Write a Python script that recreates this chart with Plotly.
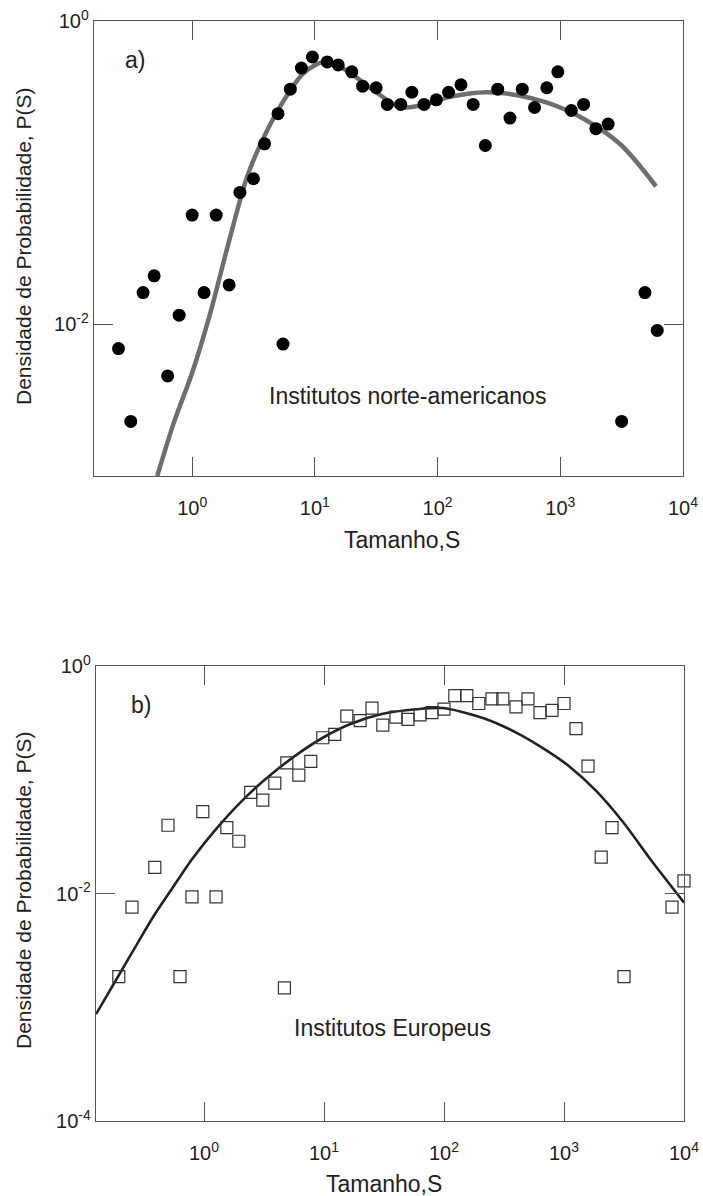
import plotly.graph_objects as go

# ---------------- Panel a) : Institutos norte-americanos ----------------
s_na = [0.158, 0.251, 0.316, 0.398, 0.49, 0.631, 0.783, 1.0, 1.25, 1.57, 2.0, 2.45,
        3.16, 3.89, 5.01, 5.5, 6.31, 7.76, 9.55, 12.6, 15.5, 20.0, 24.5, 31.6, 38.9,
        50.1, 61.7, 77.6, 97.7, 123, 155, 195, 245, 309, 389, 490, 617, 776, 955,
        1230, 1549, 1950, 2455, 3162, 4898, 6166]
p_na = [0.00229, 0.00692, 0.00229, 0.0162, 0.0209, 0.00457, 0.0115, 0.0525, 0.0162,
        0.0525, 0.0182, 0.0741, 0.0912, 0.155, 0.245, 0.00741, 0.355, 0.49, 0.579,
        0.537, 0.513, 0.462, 0.372, 0.363, 0.282, 0.282, 0.339, 0.282, 0.302, 0.339,
        0.380, 0.282, 0.151, 0.355, 0.229, 0.355, 0.269, 0.363, 0.462, 0.257, 0.282,
        0.195, 0.209, 0.00229, 0.0162, 0.00912]

# fitted curve
fit_na_s = [0.519, 0.708, 1.0, 1.41, 2.0, 2.82, 3.98, 5.62, 7.94, 11.2, 14.1, 20.0,
            31.6, 50.1, 79.4, 126, 251, 447, 794, 1585, 3162, 6026]
fit_na_p = [0.001, 0.00224, 0.00479, 0.0120, 0.0355, 0.0955, 0.182, 0.302, 0.447,
            0.531, 0.525, 0.447, 0.339, 0.269, 0.282, 0.316, 0.339, 0.324, 0.288,
            0.224, 0.151, 0.0813]

# ---------------- Panel b) : Institutos Europeus ----------------
s_eu = [0.195, 0.251, 0.389, 0.501, 0.631, 0.794, 0.977, 1.26, 1.55, 1.95, 2.45, 3.09,
        3.89, 4.68, 4.9, 6.17, 7.76, 9.77, 12.3, 15.5, 20.0, 25.1, 30.9, 39.8, 50.1,
        63.1, 79.4, 100, 123, 155, 195, 251, 309, 398, 501, 631, 794, 1000, 1259,
        1585, 2042, 2512, 3162, 7943, 10000]
p_eu = [0.00186, 0.00759, 0.0170, 0.0398, 0.00186, 0.00933, 0.0525, 0.00933, 0.0380,
        0.0288, 0.0776, 0.0661, 0.0933, 0.00148, 0.141, 0.110, 0.145, 0.234, 0.251,
        0.363, 0.331, 0.427, 0.302, 0.355, 0.339, 0.372, 0.389, 0.417, 0.550, 0.550,
        0.468, 0.513, 0.513, 0.437, 0.513, 0.389, 0.407, 0.468, 0.282, 0.132, 0.0209,
        0.0380, 0.00186, 0.00759, 0.0129]

fit_eu_s = [0.126, 0.195, 0.282, 0.380, 0.525, 0.794, 1.29, 2.40, 4.07, 6.31, 9.77,
            16.6, 30.9, 58.9, 97.7, 214, 407, 708, 1096, 1862, 3090, 5248, 10000]
fit_eu_p = [0.00087, 0.00191, 0.00372, 0.00631, 0.0105, 0.0200, 0.0380, 0.0759,
            0.123, 0.174, 0.234, 0.309, 0.380, 0.417, 0.427, 0.347, 0.257, 0.182,
            0.132, 0.0794, 0.0427, 0.0200, 0.00832]

x_tickvals = [1, 10, 100, 1000, 10000]
x_ticktext = ["10<sup>0</sup>", "10<sup>1</sup>", "10<sup>2</sup>", "10<sup>3</sup>", "10<sup>4</sup>"]
ya_tickvals = [1, 0.01]
ya_ticktext = ["10<sup>0</sup>", "10<sup>-2</sup>"]
yb_tickvals = [1, 0.01, 0.0001]
yb_ticktext = ["10<sup>0</sup>", "10<sup>-2</sup>", "10<sup>-4</sup>"]

FONT = "Liberation Sans, Arial, sans-serif"
AX = "#555555"
TXT = "#222222"
W, H = 703, 1196

fig = go.Figure()

fig.add_trace(go.Scatter(x=fit_na_s, y=fit_na_p, mode="lines",
                         line=dict(color="#6e6e6e", width=4.5, shape="spline", smoothing=0.8),
                         xaxis="x", yaxis="y", cliponaxis=True, showlegend=False))
fig.add_trace(go.Scatter(x=s_na, y=p_na, mode="markers",
                         marker=dict(symbol="circle", size=13, color="black"),
                         xaxis="x", yaxis="y", cliponaxis=False, showlegend=False))

fig.add_trace(go.Scatter(x=fit_eu_s, y=fit_eu_p, mode="lines",
                         line=dict(color="#222222", width=2.6, shape="spline", smoothing=0.8),
                         xaxis="x2", yaxis="y2", cliponaxis=True, showlegend=False))
fig.add_trace(go.Scatter(x=s_eu, y=p_eu, mode="markers",
                         marker=dict(symbol="square-open", size=12, color="#333333",
                                     line=dict(width=1.2, color="#333333")),
                         xaxis="x2", yaxis="y2", cliponaxis=False, showlegend=False))


def px_x(p):
    return p / W


def px_y(p):
    return 1 - p / H


def xaxis(domain, rng, anchor):
    return dict(domain=domain, type="log", range=rng, anchor=anchor,
                tickmode="array", tickvals=x_tickvals, ticktext=x_ticktext,
                ticks="inside", ticklen=19, tickwidth=1.2, tickcolor=AX,
                showline=True, linecolor=AX, linewidth=1.4, mirror="ticks",
                showgrid=False, zeroline=False, automargin=False,
                ticklabelstandoff=14,
                tickfont=dict(family=FONT, size=20, color=TXT))


def yaxis(domain, rng, anchor, tv, tt):
    return dict(domain=domain, type="log", range=rng, anchor=anchor,
                tickmode="array", tickvals=tv, ticktext=tt,
                ticks="inside", ticklen=19, tickwidth=1.2, tickcolor=AX,
                showline=True, linecolor=AX, linewidth=1.4, mirror="ticks",
                showgrid=False, zeroline=False, automargin=False,
                tickfont=dict(family=FONT, size=20, color=TXT))


def label(text, x, y, size, anchor="left", angle=0):
    return dict(text=text, x=px_x(x), y=px_y(y), xref="paper", yref="paper",
                xanchor=anchor, yanchor="middle", showarrow=False, textangle=angle,
                font=dict(family=FONT, size=size, color=TXT))


YTITLE = "Densidade de Probabilidade, P(S)"
XTITLE = "Tamanho,S"

fig.update_layout(
    width=W, height=H,
    margin=dict(l=0, r=0, t=0, b=0, autoexpand=False),
    paper_bgcolor="white", plot_bgcolor="white",
    xaxis=xaxis([px_x(94), px_x(683)], [-0.8, 4], "y"),
    yaxis=yaxis([px_y(476), px_y(21)], [-3, 0], "x", ya_tickvals, ya_ticktext),
    xaxis2=xaxis([px_x(96), px_x(684)], [-0.9, 4], "y2"),
    yaxis2=yaxis([px_y(1121), px_y(666)], [-4, 0], "x2", yb_tickvals, yb_ticktext),
    annotations=[
        label("a)", 123, 60, 23),
        label("Institutos norte-americanos", 267, 396, 23),
        label(XTITLE, 402, 540, 23, anchor="center"),
        label(YTITLE, 24, 246, 21, anchor="center", angle=-90),
        label("b)", 129, 705, 23),
        label("Institutos Europeus", 292, 1028, 23),
        label(XTITLE, 384, 1184, 23, anchor="center"),
        label(YTITLE, 24, 890, 21, anchor="center", angle=-90),
    ],
)

fig.write_html("out.html",
               config={"displayModeBar": False},
               post_script="document.body.style.margin='0';document.body.style.overflow='hidden';")
